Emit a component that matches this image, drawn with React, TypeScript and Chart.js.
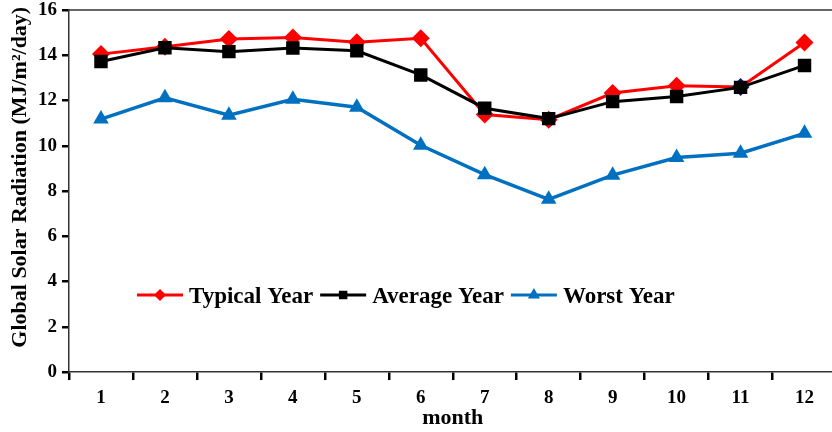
import React, { useEffect, useRef } from "react";
import { Chart, registerables } from "chart.js";

Chart.register(...registerables);

const months = ["1", "2", "3", "4", "5", "6", "7", "8", "9", "10", "11", "12"];
const typicalYear = [14.05, 14.38, 14.72, 14.78, 14.58, 14.75, 11.38, 11.15, 12.33, 12.65, 12.6, 14.56];
const averageYear = [13.72, 14.33, 14.16, 14.32, 14.2, 13.13, 11.66, 11.2, 11.95, 12.18, 12.58, 13.55];
const worstYear = [11.18, 12.12, 11.35, 12.05, 11.7, 10.02, 8.72, 7.63, 8.7, 9.48, 9.67, 10.55];
const seriesLabels = ["Typical Year", "Average Year", "Worst Year"];
const yTitle = "     Global Solar Radiation (MJ/m\u00B2/day)";
const xTitle = "month";

const SERIF = '"Liberation Serif", "Times New Roman", "DejaVu Serif", serif';

function drawMarker(ctx: CanvasRenderingContext2D, style: string, x: number, y: number, r: number) {
  ctx.beginPath();
  if (style === "rectRot") {
    ctx.moveTo(x - r, y);
    ctx.lineTo(x, y - r);
    ctx.lineTo(x + r, y);
    ctx.lineTo(x, y + r);
  } else if (style === "rect") {
    const s = r * Math.SQRT1_2;
    ctx.rect(x - s, y - s, 2 * s, 2 * s);
  } else {
    const a = (2 * Math.PI) / 3;
    ctx.moveTo(x, y - r);
    ctx.lineTo(x + Math.sin(a) * r, y - Math.cos(a) * r);
    ctx.lineTo(x + Math.sin(2 * a) * r, y - Math.cos(2 * a) * r);
  }
  ctx.closePath();
  ctx.fill();
}

const framePlugin = {
  id: "frameAndLegend",
  afterDatasetsDraw(chart: any) {
    const ctx: CanvasRenderingContext2D = chart.ctx;
    const { left, right, top, bottom } = chart.chartArea;
    ctx.save();
    // top frame line
    ctx.strokeStyle = "#333333";
    ctx.lineWidth = 1.5;
    ctx.beginPath();
    ctx.moveTo(left, top);
    ctx.lineTo(right, top);
    ctx.stroke();

    // inline legend
    let x = left + 68;
    const y = bottom - 77;
    ctx.font = "bold 23px " + SERIF;
    ctx.textBaseline = "middle";
    ctx.textAlign = "left";
    chart.data.datasets.forEach((ds: any) => {
      const color = ds.borderColor;
      ctx.strokeStyle = color;
      ctx.fillStyle = color;
      ctx.lineWidth = 3;
      ctx.beginPath();
      ctx.moveTo(x, y);
      ctx.lineTo(x + 46, y);
      ctx.stroke();
      drawMarker(ctx, ds.pointStyle, x + 23, y, ds.pointStyle === "triangle" ? 7 : 6);
      ctx.fillStyle = "#000000";
      ctx.fillText(ds.label, x + 52, y + 2);
      const w = ctx.measureText(ds.label).width;
      x = x + 52 + w + 7;
    });
    ctx.restore();
  },
};

export default function App() {
  const ref = useRef<HTMLCanvasElement | null>(null);

  useEffect(() => {
    if (!ref.current) return;
    const typicalPointColors = typicalYear.map((_, i) => (i === 10 ? "#14147a" : "#ff0000"));
    const chart = new Chart(ref.current, {
      type: "line",
      data: {
        labels: months,
        datasets: [
          {
            label: seriesLabels[0],
            data: typicalYear,
            borderColor: "#ff0000",
            backgroundColor: "#ff0000",
            pointBackgroundColor: typicalPointColors,
            pointBorderColor: typicalPointColors,
            pointStyle: "rectRot",
            pointRadius: 9,
            pointBorderWidth: 0,
            borderWidth: 3,
            order: 3,
          },
          {
            label: seriesLabels[1],
            data: averageYear,
            borderColor: "#000000",
            backgroundColor: "#000000",
            pointStyle: "rect",
            pointRadius: 9.5,
            pointBorderWidth: 0,
            borderWidth: 3,
            order: 2,
          },
          {
            label: seriesLabels[2],
            data: worstYear,
            borderColor: "#0070c0",
            backgroundColor: "#0070c0",
            pointStyle: "triangle",
            pointRadius: 9,
            pointBorderWidth: 0,
            borderWidth: 3.5,
            order: 1,
          },
        ],
      },
      options: {
        responsive: false,
        animation: false,
        layout: { padding: { left: 0, top: 10, right: 0, bottom: 0 } },
        plugins: {
          legend: { display: false },
          tooltip: { enabled: false },
        },
        scales: {
          x: {
            type: "category",
            offset: true,
            grid: {
              offset: true,
              drawOnChartArea: false,
              drawTicks: true,
              tickLength: 8,
              lineWidth: 2.5,
              color: "#000000",
            },
            border: { display: true, color: "#333333", width: 1.5 },
            ticks: {
              color: "#000000",
              font: { family: SERIF, size: 19, weight: "bold" },
              padding: 7,
              maxRotation: 0,
            },
            title: {
              display: true,
              text: xTitle,
              color: "#000000",
              font: { family: SERIF, size: 22, weight: "bold" },
              padding: { top: 0, bottom: 0 },
            },
            afterFit(scale: any) {
              scale.height = 60;
              scale.paddingLeft = 0;
              scale.paddingRight = 0;
            },
          },
          y: {
            min: 0,
            max: 16,
            ticks: {
              stepSize: 2,
              color: "#000000",
              font: { family: SERIF, size: 19, weight: "bold" },
              padding: 5,
            },
            grid: {
              drawOnChartArea: false,
              drawTicks: true,
              tickLength: 7,
              lineWidth: 2.5,
              color: "#000000",
            },
            border: { display: true, color: "#333333", width: 1.5 },
            title: {
              display: true,
              text: yTitle,
              color: "#000000",
              font: { family: SERIF, size: 22, weight: "bold" },
              padding: { top: 7, bottom: 0 },
            },
            afterFit(scale: any) {
              scale.width = 69;
              scale.paddingTop = 0;
              scale.paddingBottom = 0;
            },
          },
        },
      },
      plugins: [framePlugin],
    });
    return () => chart.destroy();
  }, []);

  return (
    <div style={{ position: "fixed", left: 0, top: 0, width: 832, height: 432, overflow: "hidden", background: "#ffffff" }}>
      <canvas ref={ref} width={846} height={432} style={{ display: "block" }} />
    </div>
  );
}
